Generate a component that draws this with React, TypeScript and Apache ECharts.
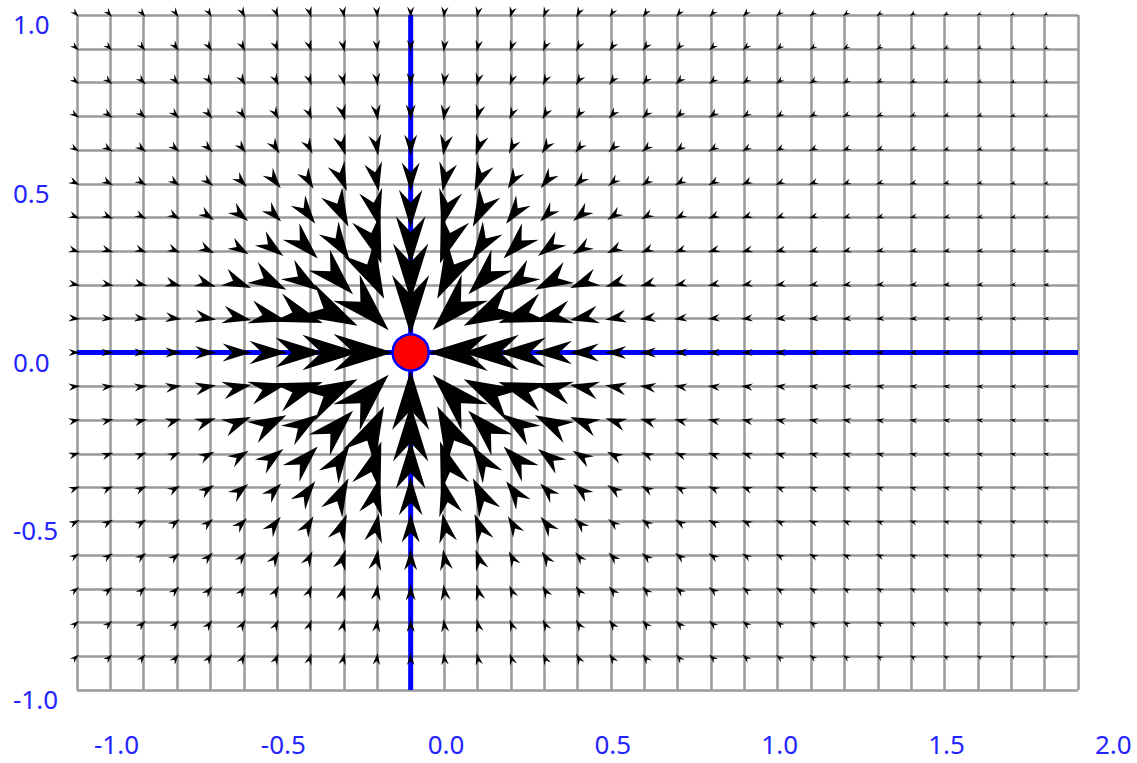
import React, { useEffect, useRef } from 'react';
import * as echarts from 'echarts';

// ---- data ----
const X_MIN = -1.0;
const X_MAX = 2.0;
const Y_MIN = -1.0;
const Y_MAX = 1.0;
const GRID_STEP = 0.1;
const X_LABELS = [-1.0, -0.5, 0.0, 0.5, 1.0, 1.5, 2.0];
const Y_LABELS = [-1.0, -0.5, 0.0, 0.5, 1.0];
// sample positions of the vector field (arrow columns / rows)
const ARROW_X = [
  -1.0, -0.9, -0.8, -0.7, -0.6, -0.5, -0.4, -0.3, -0.2, -0.1,
  0.0, 0.1, 0.2, 0.3, 0.4, 0.5, 0.6, 0.7, 0.8, 0.9,
  1.0, 1.1, 1.2, 1.3, 1.4, 1.5, 1.6, 1.7, 1.8, 1.9,
];
const ARROW_Y = [
  1.0, 0.9, 0.8, 0.7, 0.6, 0.5, 0.4, 0.3, 0.2, 0.1,
  0.0, -0.1, -0.2, -0.3, -0.4, -0.5, -0.6, -0.7, -0.8, -0.9,
];
// the sink (red point) the field points to
const SINK = [0.0, 0.0];
// field strength, by distance from the sink in grid steps (1..22)
const FIELD_STRENGTH = [
  60, 57, 48, 38, 29, 21, 16, 13, 12, 11.5,
  11, 10, 9.5, 9, 8.5, 8, 7.5, 7, 6.5, 6, 5.5, 5.5,
];
const AXIS_H = [[-1.0, 0.0], [2.0, 0.0]];
const AXIS_V = [[0.0, -1.0], [0.0, 1.0]];

const near = (a: number, b: number) => Math.abs(a - b) < 1e-6;

function buildArrows() {
  const out: number[][] = [];
  for (const x of ARROW_X) {
    for (const y of ARROW_Y) {
      const dist = Math.hypot(x - SINK[0], y - SINK[1]);
      const k = Math.round(dist / GRID_STEP);
      if (k < 1) continue;
      const s = FIELD_STRENGTH[Math.min(k, FIELD_STRENGTH.length) - 1];
      out.push([x, y, s]);
    }
  }
  return out;
}

export default function App() {
  const ref = useRef<HTMLDivElement>(null);
  useEffect(() => {
    if (!ref.current) return;
    const chart = echarts.init(ref.current, null, { renderer: 'svg' });
    const fmt = (list: number[]) => (v: number) => {
      const r = Math.round(v * 10) / 10;
      if (!list.some((l) => near(l, r))) return '';
      return (near(r, 0) ? 0 : r).toFixed(1);
    };
    const gridLine = { show: true, lineStyle: { color: '#9a9a9a', width: 2.5 } };
    chart.setOption({
      animation: false,
      grid: { left: 77, top: 15, width: 1001, height: 675 },
      xAxis: {
        type: 'value', min: X_MIN, max: X_MAX, interval: GRID_STEP,
        axisLine: { show: false }, axisTick: { show: false },
        splitLine: gridLine,
        axisLabel: {
          formatter: fmt(X_LABELS), color: '#2424ff', fontSize: 26,
          fontFamily: 'Noto Sans', align: 'left', verticalAlign: 'top',
          lineHeight: 20, padding: [0, 0, 0, 17], margin: 44,
        },
      },
      yAxis: {
        type: 'value', min: Y_MIN, max: Y_MAX, interval: GRID_STEP,
        axisLine: { show: false }, axisTick: { show: false },
        splitLine: gridLine,
        axisLabel: {
          formatter: fmt(Y_LABELS), color: '#2424ff', fontSize: 26,
          fontFamily: 'Noto Sans', align: 'left', verticalAlign: 'top',
          lineHeight: 18, margin: 64,
        },
      },
      series: [
        {
          type: 'line', data: AXIS_H, symbol: 'none', z: 2,
          lineStyle: { color: '#0000ff', width: 5 }, silent: true,
        },
        {
          type: 'line', data: AXIS_V, symbol: 'none', z: 2,
          lineStyle: { color: '#0000ff', width: 5 }, silent: true,
        },
        {
          type: 'custom', z: 3, clip: false,
          encode: { x: 0, y: 1 },
          data: buildArrows(),
          renderItem: (params: any, api: any) => {
            const x = api.value(0);
            const y = api.value(1);
            const s = api.value(2);
            const p = api.coord([x, y]);
            const o = api.coord(SINK);
            const dx = o[0] - p[0];
            const dy = o[1] - p[1];
            const d = Math.hypot(dx, dy) || 1;
            const ux = dx / d;
            const uy = dy / d;
            const nx = -uy;
            const ny = ux;
            const L = s;
            const hw = L * 0.31;
            const tip = [p[0] + ux * 0.27 * L, p[1] + uy * 0.27 * L];
            const back = [p[0] - ux * 0.73 * L, p[1] - uy * 0.73 * L];
            const notch = [p[0] - ux * 0.4 * L, p[1] - uy * 0.4 * L];
            const b1 = [back[0] + nx * hw, back[1] + ny * hw];
            const b2 = [back[0] - nx * hw, back[1] - ny * hw];
            return {
              type: 'polygon',
              shape: { points: [tip, b1, notch, b2] },
              style: { fill: '#000000' },
            };
          },
        },
        {
          type: 'scatter', z: 4, data: [SINK], symbol: 'circle', symbolSize: 36,
          itemStyle: { color: '#ff0000', opacity: 1, borderColor: '#0000ff', borderWidth: 2.5 },
        },
      ],
    });
    return () => chart.dispose();
  }, []);
  return (
    <div
      ref={ref}
      style={{ position: 'fixed', left: 0, top: 0, width: 1137, height: 763, background: '#fff' }}
    />
  );
}
